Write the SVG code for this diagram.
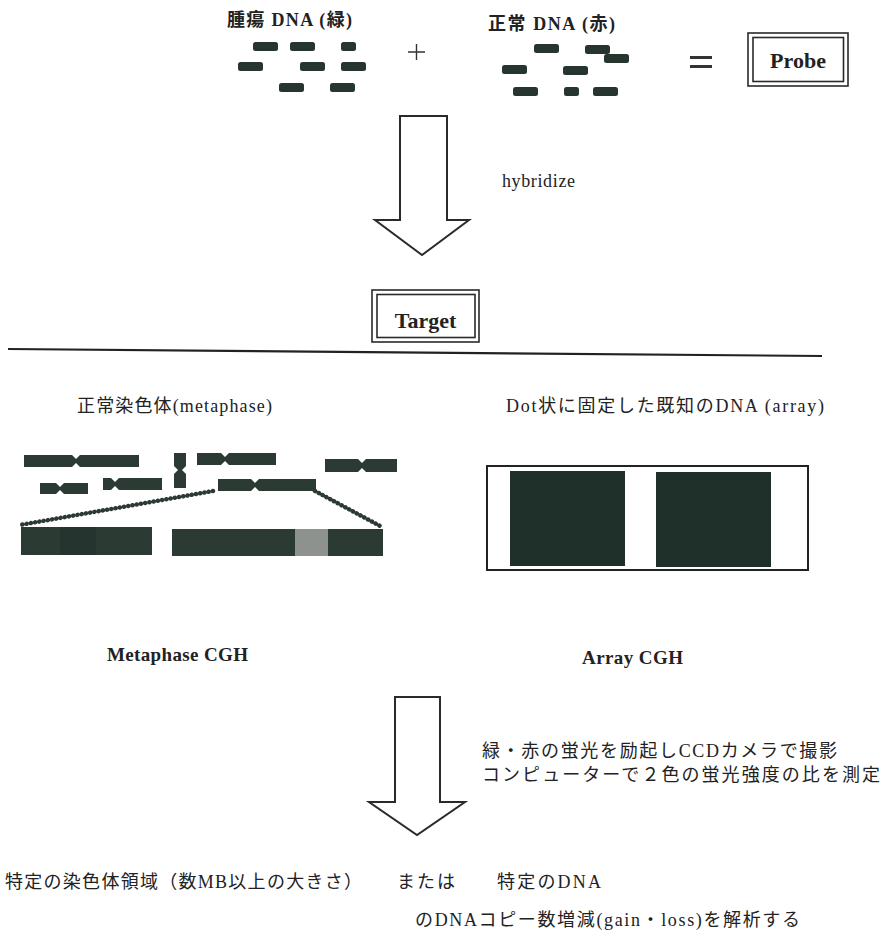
<svg xmlns="http://www.w3.org/2000/svg" width="886" height="936" viewBox="0 0 886 936">
  <style>
    text { fill: #222; }
    .lat, .l { font-family: "Liberation Serif", "Times New Roman", serif; }
    .jp { font-family: "Noto Sans CJK JP", "Liberation Serif", sans-serif; }
    .b { font-weight: bold; }
    .dash { fill: #26362f; }
    .chr { fill: #2b3b34; }
    .frame { fill: none; stroke: #2a2a2a; stroke-width: 1.6; }
    .bigarrow { fill: #fff; stroke: #2a2a2a; stroke-width: 2; stroke-linejoin: miter; }
    .bead { fill: none; stroke: #2b3b34; stroke-width: 4.5; stroke-linecap: round; stroke-dasharray: 0.1 4.2; }
  </style>
  <defs>
    <rect id="seg" width="25" height="9" rx="2.5"/>
    <rect id="segS" width="15" height="9" rx="2.5"/>
  </defs>
  <rect width="886" height="936" fill="#fff"/>

  <!-- probe ingredients -->
  <g id="tumor-dna">
    <text class="jp b" x="227" y="26" font-size="18" textLength="125">腫瘍<tspan class="l"> DNA (</tspan>緑<tspan class="l">)</tspan></text>
    <g class="dash">
      <use href="#seg" x="253" y="42"/>
      <use href="#seg" x="290" y="42"/>
      <use href="#segS" x="341" y="42"/>
      <use href="#seg" x="238" y="62"/>
      <use href="#seg" x="300" y="62"/>
      <use href="#seg" x="341" y="62"/>
      <use href="#seg" x="279" y="83"/>
      <use href="#seg" x="330" y="83"/>
    </g>
  </g>
  <g id="plus">
    <path d="M408 52 H425 M416.5 44 V60" stroke="#333" stroke-width="1.4"/>
  </g>
  <g id="normal-dna">
    <text class="jp b" x="488" y="30" font-size="18" textLength="127">正常<tspan class="l"> DNA (</tspan>赤<tspan class="l">)</tspan></text>
    <g class="dash">
      <use href="#seg" x="534" y="44"/>
      <use href="#seg" x="585" y="45"/>
      <use href="#seg" x="604" y="54"/>
      <use href="#seg" x="502" y="65"/>
      <use href="#seg" x="563" y="66"/>
      <use href="#seg" x="513" y="87"/>
      <use href="#segS" x="564" y="87"/>
      <use href="#seg" x="593" y="87"/>
    </g>
  </g>
  <g id="equals">
    <rect x="690" y="56" width="22" height="3" fill="#333"/>
    <rect x="690" y="65" width="22" height="3" fill="#333"/>
  </g>
  <g id="probe">
    <rect class="frame" x="748" y="33" width="100" height="53"/>
    <rect class="frame" x="753" y="37.5" width="90.5" height="44"/>
    <text class="lat b" x="798" y="68" font-size="22" text-anchor="middle">Probe</text>
  </g>

  <!-- hybridization step -->
  <g id="arrow-hybridize">
    <polygon class="bigarrow" points="400,116 447,116 447,220 469,220 422,255 375,220 400,220"/>
  </g>
  <g id="label-hybridize">
    <text class="lat" x="502" y="187" font-size="18" textLength="73">hybridize</text>
  </g>

  <g id="target">
    <rect class="frame" x="372" y="290" width="107" height="52"/>
    <rect class="frame" x="377" y="294.5" width="98" height="43"/>
    <text class="lat b" x="425.5" y="328" font-size="22" text-anchor="middle">Target</text>
  </g>

  <g id="divider">
    <line x1="8" y1="349" x2="822" y2="356" stroke="#222" stroke-width="2.2"/>
  </g>

  <!-- metaphase chromosomes -->
  <g id="metaphase">
    <text class="jp" x="77" y="412" font-size="18" textLength="195">正常染色体<tspan class="l">(metaphase)</tspan></text>
    <g class="chr">
      <path d="M24 455 H72 L76 459 L80 455 H139 V467 H80 L76 463 L72 467 H24 Z"/>
      <path d="M40 483 H56 L60 487 L64 483 H88 V494 H64 L60 490 L56 494 H40 Z"/>
      <path d="M103 478 H111 L115 482 L119 478 H162 V490 H119 L115 486 L111 490 H103 Z"/>
      <path d="M174 453 H186 V466 L182 470 L186 474 V488 H174 V474 L178 470 L174 466 Z"/>
      <path d="M197 453 H221 L225 457 L229 453 H276 V465 H229 L225 461 L221 465 H197 Z"/>
      <path d="M325 459 H358 L362 463 L366 459 H397 V472 H366 L362 468 L358 472 H325 Z"/>
      <path d="M218 479 H251 L255 483 L259 479 H316 V491 H259 L255 487 L251 491 H218 Z"/>
    </g>
    <path class="bead" d="M213 491 L20 525"/>
    <path class="bead" d="M315 491 L382 527"/>
    <rect class="chr" x="21" y="527" width="131" height="28"/>
    <rect x="60" y="527" width="36" height="28" fill="#25342e"/>
    <rect class="chr" x="172" y="529" width="211" height="27"/>
    <rect x="295" y="529" width="33" height="27" fill="#8d928e"/>
    <text class="lat b" x="107" y="661" font-size="19" textLength="141">Metaphase CGH</text>
  </g>

  <!-- spotted array -->
  <g id="array">
    <text class="jp" x="506" y="412" font-size="18" textLength="318"><tspan class="l">Dot</tspan>状に固定した既知の<tspan class="l">DNA (array)</tspan></text>
    <rect x="487" y="466" width="321" height="104" fill="none" stroke="#222" stroke-width="2"/>
    <rect x="510" y="471" width="115" height="95" fill="#1f2f29"/>
    <rect x="656" y="472" width="115" height="95" fill="#1f2f29"/>
    <text class="lat b" x="582" y="664" font-size="19" textLength="101">Array CGH</text>
  </g>

  <!-- measurement step -->
  <g id="arrow-measure">
    <polygon class="bigarrow" points="395,697 440,697 440,802 465,802 417,835 369,802 395,802"/>
  </g>
  <g id="label-measure">
    <text class="jp" x="482" y="757" font-size="18" textLength="355">緑・赤の蛍光を励起し<tspan class="l">CCD</tspan>カメラで撮影</text>
    <text class="jp" x="482" y="781" font-size="18" textLength="398">コンピューターで２色の蛍光強度の比を測定</text>
  </g>

  <g id="result">
    <text class="jp" x="5" y="888" font-size="18" textLength="357">特定の染色体領域（数<tspan class="l">MB</tspan>以上の大きさ）</text>
    <text class="jp" x="397" y="888" font-size="18" textLength="58">または</text>
    <text class="jp" x="497" y="888" font-size="18" textLength="104">特定の<tspan class="l">DNA</tspan></text>
    <text class="jp" x="415" y="926" font-size="18" textLength="385">の<tspan class="l">DNA</tspan>コピー数増減<tspan class="l">(gain</tspan>・<tspan class="l">loss)</tspan>を解析する</text>
  </g>
</svg>
